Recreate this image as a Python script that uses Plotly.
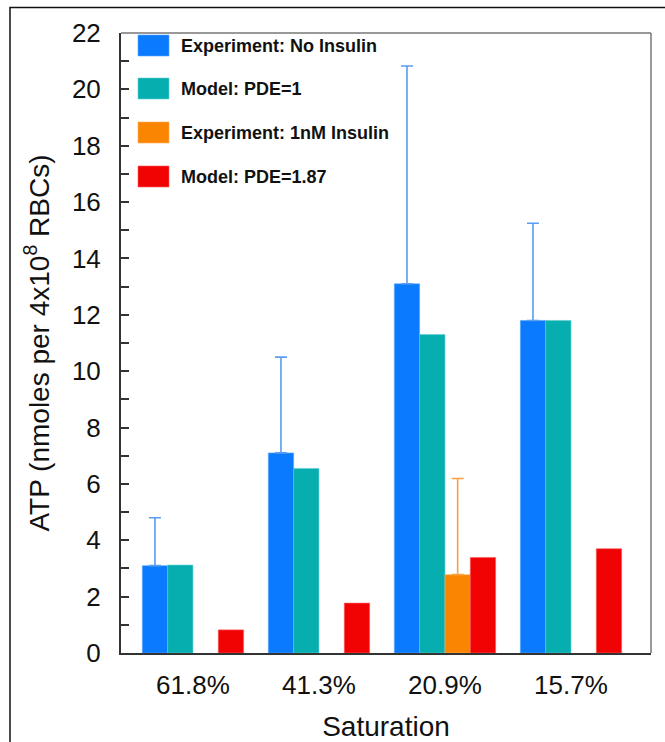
import plotly.graph_objects as go

categories = ["61.8%", "41.3%", "20.9%", "15.7%"]
exp_no_insulin = [3.1, 7.1, 13.1, 11.8]
exp_no_insulin_err = [1.7, 3.4, 7.73, 3.45]
model_pde1 = [3.12, 6.55, 11.3, 11.8]
exp_1nm_insulin = [None, None, 2.78, None]
exp_1nm_insulin_err = [0, 0, 3.41, 0]
model_pde187 = [0.82, 1.77, 3.39, 3.70]

names = ["Experiment: No Insulin", "Model: PDE=1", "Experiment: 1nM Insulin", "Model: PDE=1.87"]
colors = ["#0a7bff", "#07aeb0", "#f98500", "#f20303"]
edge_colors = ["#5aa6ff", "#5fd0d0", "#ffb060", "#ff5a5a"]
err_colors = ["#5a9cf0", None, "#f7a040", None]

W, H = 665, 742
L, R, T, B = 121, 14, 33, 89
pw, ph = W - L - R, H - T - B

def px(x):
    return (x - L) / pw

def py(y):
    return (H - B - y) / ph

fig = go.Figure()
series = [exp_no_insulin, model_pde1, exp_1nm_insulin, model_pde187]
errs = [exp_no_insulin_err, None, exp_1nm_insulin_err, None]
for i, (vals, nm) in enumerate(zip(series, names)):
    kw = {}
    if errs[i] is not None:
        kw["error_y"] = dict(type="data", array=errs[i], arrayminus=[0] * len(vals),
                             symmetric=False, color=err_colors[i], thickness=1.6, width=6)
    fig.add_trace(go.Bar(x=categories, y=vals, name=nm, showlegend=False,
                         marker=dict(color=colors[i], line=dict(color=edge_colors[i], width=0.6)),
                         **kw))

shapes = []
annotations = []
# manual legend
row_tops = [35, 78, 122, 166]
for i, (nm, top) in enumerate(zip(names, row_tops)):
    shapes.append(dict(type="rect", xref="paper", yref="paper",
                       x0=px(138), x1=px(169), y0=py(top + 21), y1=py(top),
                       fillcolor=colors[i], line=dict(color=edge_colors[i], width=0.6)))
    annotations.append(dict(xref="paper", yref="paper", x=px(179), y=py(top + 11),
                            text="<b>" + nm + "</b>", showarrow=False, xanchor="left",
                            yanchor="middle",
                            font=dict(family="Liberation Sans, Arial", size=18, color="#111")))
# top/right frame lines
shapes.append(dict(type="line", xref="paper", yref="paper", x0=0, x1=1, y0=1, y1=1,
                   line=dict(color="#777", width=1.5)))
shapes.append(dict(type="line", xref="paper", yref="paper", x0=1, x1=1, y0=0, y1=1,
                   line=dict(color="#777", width=1.5)))
# outer border
shapes.append(dict(type="rect", xref="paper", yref="paper",
                   x0=px(10), x1=px(700), y0=py(800), y1=py(7.5),
                   line=dict(color="#111", width=1.5), fillcolor="rgba(0,0,0,0)"))

fig.update_layout(
    width=W, height=H,
    margin=dict(l=L, r=R, t=T, b=B),
    paper_bgcolor="white", plot_bgcolor="white",
    barmode="group", bargap=0.196, bargroupgap=0,
    font=dict(family="Liberation Sans, Arial", color="#111"),
    shapes=shapes, annotations=annotations,
    xaxis=dict(range=[-0.571, 3.635], showline=True, linecolor="#333", linewidth=2,
               automargin=False,
               ticks="", tickfont=dict(size=26), ticklabelstandoff=8,
               title=dict(text="Saturation", font=dict(size=28), standoff=18),
               showgrid=False, zeroline=False),
    yaxis=dict(range=[0, 22], dtick=2, showline=True, linecolor="#333", linewidth=2,
               automargin=False,
               ticks="inside", ticklen=8, tickcolor="#333", tickwidth=1.5,
               minor=dict(dtick=1, ticks="inside", ticklen=8, tickcolor="#333", tickwidth=1.5),
               tickfont=dict(size=26), ticklabelstandoff=13,
               title=dict(text="ATP (nmoles per 4x10<sup>8</sup> RBCs)", font=dict(size=28), standoff=14),
               showgrid=False, zeroline=False),
)

fig.write_html("out.html", config={"displayModeBar": False},
               post_script="document.body.style.margin='0';document.body.style.overflow='hidden';")
